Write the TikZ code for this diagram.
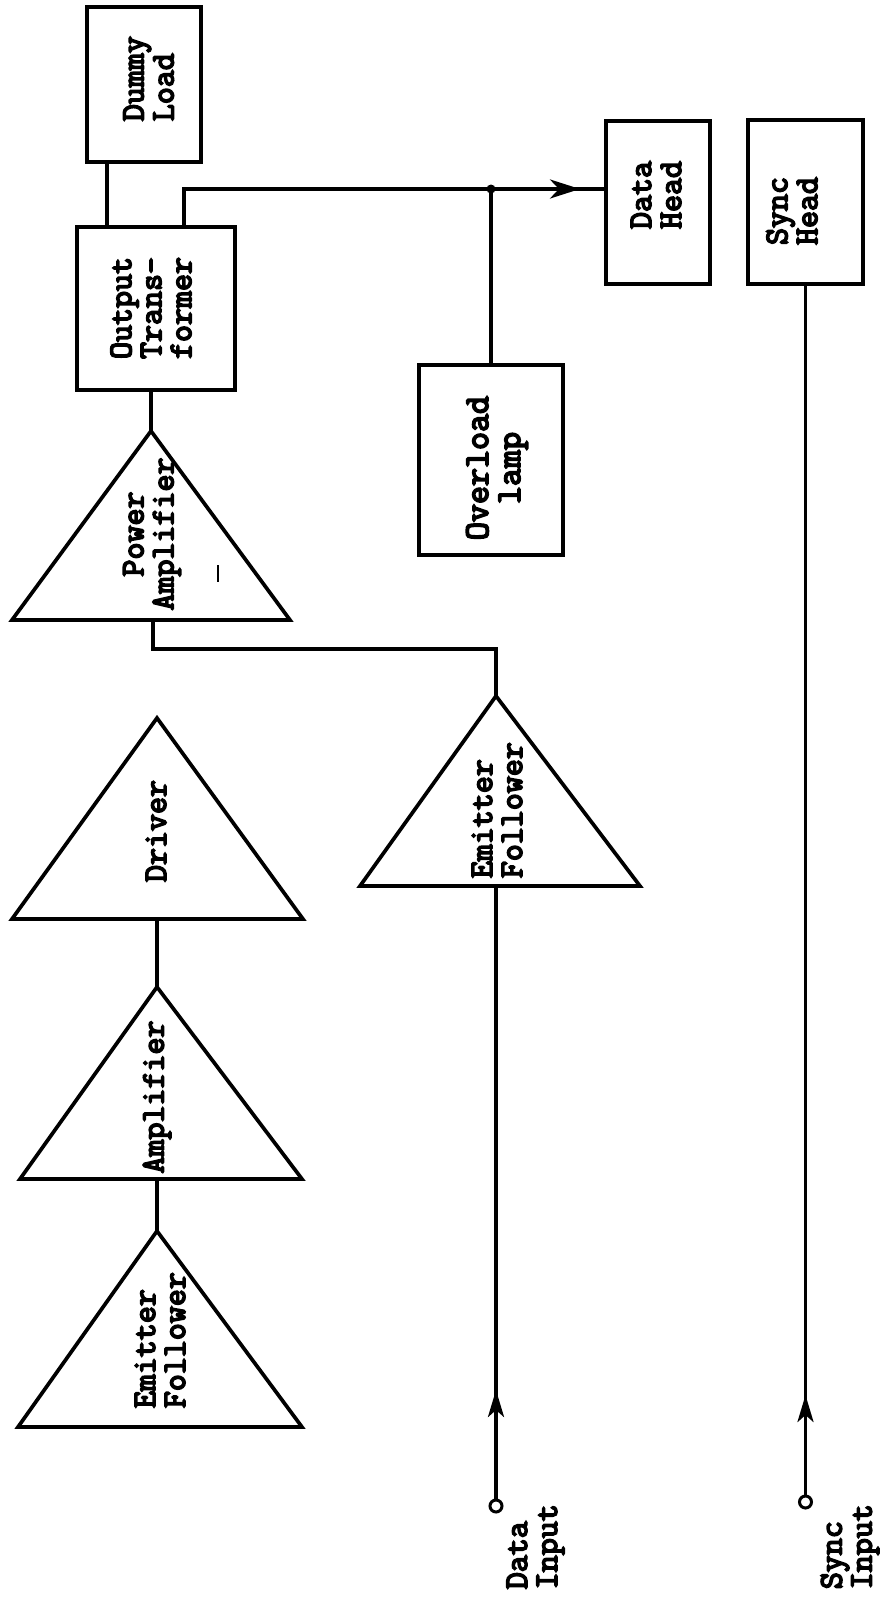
\documentclass[tikz,border=0pt]{standalone}
\usepackage{fontspec}
\newfontfamily\typewr{Latin Modern Mono}[FakeBold=5]
\usetikzlibrary{arrows.meta}
\begin{document}
\begin{tikzpicture}[x=1pt,y=-1pt,line width=3.7pt,
  box/.style={draw, rectangle, line width=3.9pt, inner sep=0pt},
  lbl/.style={font=\typewr\fontsize{33}{30}\selectfont, rotate=90, inner sep=0pt},
  amptri/.style={line width=3.7pt, line join=miter},
  flow/.style={-{Stealth[length=30pt,width=19pt,inset=9pt]}, line width=3.7pt},
  upflow/.style={-{Stealth[length=27pt,width=16pt,inset=7pt]}, line width=3.7pt},
  term/.style={circle, draw, line width=3pt, minimum size=12pt, inner sep=0pt, fill=white}
]
\fill[white] (0,0) rectangle (882,1601);
\useasboundingbox (0,0) rectangle (882,1601);

% boxes
\node[box, minimum width=114pt, minimum height=155pt] (dummy) at (144,84.5) {};
\node[box, minimum width=158pt, minimum height=163pt] (ot) at (156,308.5) {};
\node[box, minimum width=104pt, minimum height=163pt] (dh) at (658,202.5) {};
\node[box, minimum width=115pt, minimum height=164pt] (sh) at (805.5,202) {};
\node[box, minimum width=144pt, minimum height=190pt] (ol) at (491,460) {};

% box labels
\node[lbl, align=left, anchor=west] (dummyt) at (148.5,123) {Dummy\\Load};
\node[lbl, align=left] (ott) at (151,308) {Output\\Trans-\\former};
\node[lbl, align=left] (dht) at (656,195) {Data\\Head};
\node[lbl, align=left] (sht) at (792,211) {Sync\\Head};
\node[lbl, align=center, font=\typewr\fontsize{35}{32}\selectfont] (olt) at (497,468) {Overload\\lamp};

% amplifier triangles
\coordinate (pa-t) at (151,431);  \coordinate (pa-o) at (153,620);
\coordinate (ef2-t) at (496,696); \coordinate (ef2-o) at (496,886);
\coordinate (dr-t) at (157,718);  \coordinate (dr-o) at (157,919);
\coordinate (am-t) at (157,987);  \coordinate (am-o) at (157,1179);
\coordinate (ef1-t) at (157,1231);
\draw[amptri] (12,620) -- (pa-t) -- (290,620) -- cycle;
\draw[amptri] (360,886) -- (ef2-t) -- (640,886) -- cycle;
\draw[amptri] (12,919) -- (dr-t) -- (303,919) -- cycle;
\draw[amptri] (20,1179) -- (am-t) -- (302,1179) -- cycle;
\draw[amptri] (18,1427) -- (ef1-t) -- (302,1427) -- cycle;

% triangle labels
\node[lbl, align=center] (pat) at (152,534) {Power\\Amplifier};
\node[lbl] (drt) at (156,831) {Driver};
\node[lbl] (amt) at (157,1097) {Amplifier};
\node[lbl, align=left, anchor=west] (ef1t) at (160,1410) {Emitter\\Follower};
\node[lbl, align=left, anchor=west] (ef2t) at (497,880) {Emitter\\Follower};
\draw[line width=2.8pt] (218,565) -- (218,582);

% input terminals and labels
\node[term] (din) at (496,1506) {};
\node[term] (sin) at (805.5,1502) {};
\node[lbl, align=left, anchor=west] (dint) at (535.5,1591) {Data\\Input};
\node[lbl, align=left, anchor=west] (sint) at (850,1591) {Sync\\Input};

% connectors
\coordinate (jn) at (491,189);
\coordinate (atip) at (580,189);
\coordinate (dtip) at (496,1390);
\coordinate (stip) at (805.5,1395);
\draw ([xshift=-37pt]dummy.south) -- ([xshift=-37pt]dummy.south |- ot.north);
\draw ([xshift=28pt]ot.north) |- (jn) -- (jn -| dh.west);
\draw[flow] (jn) -- (atip);
\fill (jn) circle (4.5pt);
\draw (jn) -- (jn |- ol.north);
\draw (ot.south -| pa-t) -- (pa-t);
\draw (pa-o) -- ++(0,29) -| (ef2-t);
\draw (dr-o) -- (am-t);
\draw (am-o) -- (ef1-t);
\draw (ef2-o) -- (din.north);
\draw[upflow] (din.north) -- (dtip);
\draw (sh.south) -- (sin.north);
\draw[upflow] (sin.north) -- (stip);
\end{tikzpicture}
\end{document}
